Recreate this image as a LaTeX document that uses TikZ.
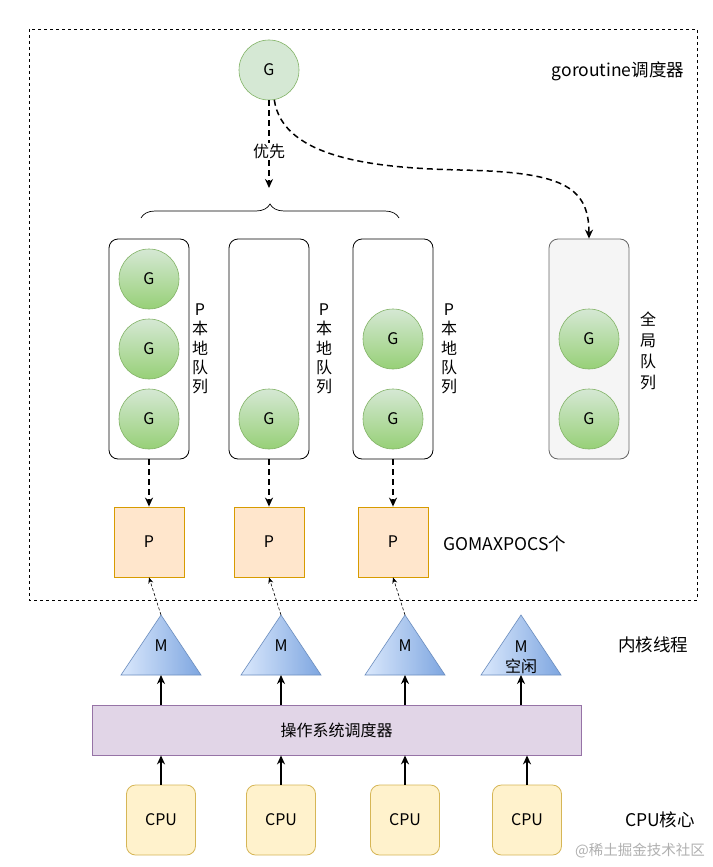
\documentclass[tikz,border=0pt]{standalone}
\usepackage{fontspec}
\setmainfont{Noto Sans CJK SC}
\usetikzlibrary{arrows.meta,decorations.pathreplacing,calc}
\definecolor{gfill}{HTML}{D5E8D4}
\definecolor{gdark}{HTML}{97D077}
\definecolor{gline}{HTML}{82B366}
\definecolor{pfill}{HTML}{FFE6CC}
\definecolor{pline}{HTML}{D79B00}
\definecolor{mfill}{HTML}{DAE8FC}
\definecolor{mdark}{HTML}{7EA6E0}
\definecolor{mline}{HTML}{6C8EBF}
\definecolor{osfill}{HTML}{E1D5E7}
\definecolor{osline}{HTML}{9673A6}
\definecolor{cfill}{HTML}{FFF2CC}
\definecolor{cline}{HTML}{D6B656}
\definecolor{glfill}{HTML}{F5F5F5}
\definecolor{glline}{HTML}{666666}
\definecolor{wm}{HTML}{B0B0B0}
\tikzset{
  gball/.style={circle, minimum size=60pt, inner sep=0pt, draw=gline, line width=0.6pt, top color=gfill, bottom color=gdark},
  gtopball/.style={circle, minimum size=60pt, inner sep=0pt, draw=gline, line width=0.6pt, fill=gfill},
  qbox/.style={draw=black, line width=0.8pt, rounded corners=9pt, minimum width=80pt, minimum height=220pt, inner sep=0pt},
  globbox/.style={draw=glline, fill=glfill, line width=0.8pt, rounded corners=9pt, minimum width=80pt, minimum height=220pt, inner sep=0pt},
  pbox/.style={draw=pline, fill=pfill, line width=0.8pt, minimum width=70pt, minimum height=70pt, inner sep=0pt},
  cpubox/.style={draw=cline, fill=cfill, line width=0.8pt, rounded corners=9pt, minimum width=69pt, minimum height=70pt, inner sep=0pt},
  osbox/.style={draw=osline, fill=osfill, line width=0.8pt, minimum width=489pt, minimum height=50pt, inner sep=0pt},
  vlab/.style={align=center, inner sep=0pt, font=\fontsize{16}{19.3}\selectfont},
  sidelab/.style={inner sep=0pt, font=\fontsize{17.5}{20}\selectfont},
  dasharrow/.style={line width=1.5pt, dash pattern=on 6pt off 4pt, -{Stealth[length=9pt,width=8pt]}},
  thinarrow/.style={line width=0.6pt, dash pattern=on 3pt off 2pt, -{Stealth[length=6pt,width=5pt]}},
  solidarrow/.style={line width=1.5pt, -{Stealth[length=9pt,width=8pt]}},
  mtri/.style={draw=mline, line width=0.6pt, left color=mfill, right color=mdark},
}
\begin{document}
\begin{tikzpicture}[x=1pt,y=-1pt, font=\fontsize{16}{19}\selectfont]
\useasboundingbox (0,0) rectangle (712,867);
\fill[white] (0,0) rectangle (712,867);

% outer dashed frame
\draw[line width=0.7pt, dash pattern=on 3pt off 3pt] (29,29) rectangle (697,600);

% top G
\node[gtopball] (gtop) at (269,70) {G};
\node[sidelab] (title) at (618,71) {goroutine调度器};

% brace
\draw[line width=0.7pt, decorate, decoration={brace, amplitude=14pt}] (141,218) -- (399,218) coordinate[pos=0.5] (bmid);
\coordinate (btip) at (269,188);

% local queues
\node[qbox] (lq1) at (149,349) {};
\node[qbox] (lq2) at (269,349) {};
\node[qbox] (lq3) at (393,349) {};
\node[globbox] (gq) at (589,349) {};

\node[gball] (g11) at (149,279) {G};
\node[gball] (g12) at (149,349) {G};
\node[gball] (g13) at (149,419) {G};
\node[gball] (g21) at (269,419) {G};
\node[gball] (g31) at (393,339) {G};
\node[gball] (g32) at (393,419) {G};
\node[gball] (g41) at (589,339) {G};
\node[gball] (g42) at (589,419) {G};

\node[vlab] (l1) at (200,349) {P\\本\\地\\队\\列};
\node[vlab] (l2) at (324,349) {P\\本\\地\\队\\列};
\node[vlab] (l3) at (449,349) {P\\本\\地\\队\\列};
\node[vlab, font=\fontsize{16}{21}\selectfont] (l4) at (648,351) {全\\局\\队\\列};

% arrows from top G
\draw[dasharrow] (gtop.south) -- node[fill=white, inner sep=1pt, pos=0.58] (prio) {优先} (btip);
\draw[dasharrow] (gtop.-80) .. controls (283,160) and (380,168) .. (460,170) .. controls (560,172) and (589,185) .. (gq.north);

% P boxes
\node[pbox] (p1) at (149,542) {P};
\node[pbox] (p2) at (269,542) {P};
\node[pbox] (p3) at (393,542) {P};
\node[sidelab] (gomax) at (505,544) {GOMAXPOCS个};

\draw[dasharrow] (lq1.south) -- (p1.north);
\draw[dasharrow] (lq2.south) -- (p2.north);
\draw[dasharrow] (lq3.south) -- (p3.north);

% M triangles
\foreach \i/\cx in {1/161,2/281,3/405,4/521}{
  \coordinate (mtop\i) at (\cx,615);
  \coordinate (mbase\i) at (\cx,675);
  \path[mtri] (\cx-40,675) -- (mtop\i) -- (\cx+40,675) -- cycle;
}
\node[inner sep=0pt] (m1) at (161,646) {M};
\node[inner sep=0pt] (m2) at (281,646) {M};
\node[inner sep=0pt] (m3) at (405,646) {M};
\node[inner sep=0pt, align=center, font=\fontsize{16}{20}\selectfont] (m4) at (521,657) {M\\空闲};
\node[sidelab] (kth) at (653,645) {内核线程};

\draw[thinarrow] (mtop1) -- (p1.south);
\draw[thinarrow] (mtop2) -- (p2.south);
\draw[thinarrow] (mtop3) -- (p3.south);

% OS scheduler
\node[osbox] (os) at (336.5,730) {操作系统调度器};
\foreach \i in {1,2,3,4}{
  \draw[solidarrow] (os.north -| mbase\i) -- (mbase\i);
}

% CPUs
\node[cpubox] (c1) at (161,820) {CPU};
\node[cpubox] (c2) at (281,820) {CPU};
\node[cpubox] (c3) at (405,820) {CPU};
\node[cpubox] (c4) at (527,820) {CPU};
\node[sidelab] (cpul) at (660,820) {CPU核心};
\foreach \i in {1,2,3,4}{
  \draw[solidarrow] (c\i.north) -- (c\i.north |- os.south);
}

% watermark
\node[inner sep=0pt, text=wm, font=\fontsize{14.5}{16}\selectfont] (wmark) at (640,851) {@稀土掘金技术社区};
\end{tikzpicture}
\end{document}
